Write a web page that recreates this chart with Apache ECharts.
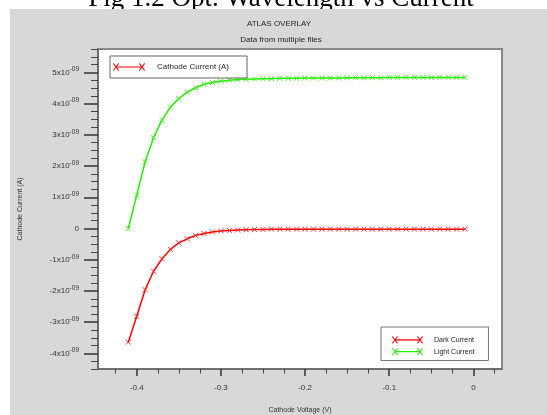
<!DOCTYPE html>
<html>
<head>
<meta charset="utf-8">
<script src="https://cdn.jsdelivr.net/npm/echarts@6/dist/echarts.min.js"></script>
<style>
html,body{margin:0;padding:0;background:#fff;}
#c{width:547px;height:415px;}
</style>
</head>
<body>
<div id="c"></div>
<script>
// Cathode voltage (V)
const voltages = [-0.41,-0.40,-0.39,-0.38,-0.37,-0.36,-0.35,-0.34,-0.33,-0.32,-0.31,-0.30,-0.29,-0.28,-0.27,-0.26,-0.25,-0.24,-0.23,-0.22,-0.21,-0.20,-0.19,-0.18,-0.17,-0.16,-0.15,-0.14,-0.13,-0.12,-0.11,-0.10,-0.09,-0.08,-0.07,-0.06,-0.05,-0.04,-0.03,-0.02,-0.01];
// Currents in units of 1e-9 A
const darkCurrent = [-3.64,-2.81,-1.96,-1.37,-0.97,-0.67,-0.46,-0.33,-0.22,-0.16,-0.11,-0.08,-0.06,-0.05,-0.04,-0.03,-0.03,-0.02,-0.02,-0.02,-0.02,-0.02,-0.02,-0.02,-0.02,-0.02,-0.02,-0.02,-0.02,-0.02,-0.02,-0.02,-0.02,-0.02,-0.02,-0.02,-0.02,-0.02,-0.02,-0.02,-0.02];
const lightCurrent = [0,1.07,2.14,2.91,3.47,3.89,4.16,4.37,4.51,4.62,4.68,4.72,4.75,4.77,4.78,4.79,4.80,4.80,4.81,4.81,4.81,4.82,4.82,4.82,4.82,4.82,4.83,4.83,4.83,4.83,4.83,4.84,4.84,4.84,4.84,4.84,4.84,4.84,4.84,4.84,4.84];
const cathodeCurrent = [];
// Tick values
const xMajorTicks = [-0.4,-0.3,-0.2,-0.1,0];
const xMinorTicks = [-0.425,-0.375,-0.35,-0.325,-0.275,-0.25,-0.225,-0.175,-0.15,-0.125,-0.075,-0.05,-0.025,0.025];
const yMajorTicks = [-4,-3,-2,-1,0,1,2,3,4,5];
const yMinorTicks = [-4.5,-4.25,-3.75,-3.5,-3.25,-2.75,-2.5,-2.25,-1.75,-1.5,-1.25,-0.75,-0.5,-0.25,0.25,0.5,0.75,1.25,1.5,1.75,2.25,2.5,2.75,3.25,3.5,3.75,4.25,4.5,4.75,5.25,5.5,5.75];

const FONT = 'Liberation Sans';
const legendIcon = 'path://M3,3.4L29,3.4L29,4.6L3,4.6Z' +
  'M0,0.7L0.7,0L6,7.3L5.3,8ZM0,7.3L5.3,0L6,0.7L0.7,8Z' +
  'M26,0.7L26.7,0L32,7.3L31.3,8ZM26,7.3L31.3,0L32,0.7L26.7,8Z';
const xSym = 'path://M0,0L10,10M10,0L0,10';

function pair(xs, ys){ return xs.map((x,i)=>[x, ys[i]]); }

const chart = echarts.init(document.getElementById('c'), null, {renderer:'canvas'});
const xMin = -0.446, xMax = 0.034, yMin = -4.5, yMax = 5.75;

chart.setOption({
  backgroundColor: '#ffffff',
  animation: false,
  graphic: [
    { type:'text', x:281, y:-1, z:0,
      style:{ text:'Fig 1.2 Opt. Wavelength vs Current', font:'27px "Liberation Serif"', fill:'#000', align:'center', verticalAlign:'middle' } },
    { type:'rect', shape:{x:10, y:9, width:537, height:406}, z:1, style:{fill:'#d8d8d8'} },
    { type:'text', x:279, y:24, z:2,
      style:{ text:'ATLAS OVERLAY', font:'8px "' + FONT + '"', fill:'#222', align:'center', verticalAlign:'middle' } },
    { type:'text', x:281, y:40, z:2,
      style:{ text:'Data from multiple files', font:'8px "' + FONT + '"', fill:'#222', align:'center', verticalAlign:'middle' } }
  ],
  grid: { left:98, top:49, right:45, bottom:46, show:true, backgroundColor:'#ffffff', borderColor:'#888', borderWidth:2, z:3,
          outerBoundsMode:'none', containLabel:false },
  legend: [
    { data:['Cathode Current (A)'], left:110, top:56, orient:'vertical', z:8,
      icon: legendIcon, itemWidth:32, itemHeight:8, itemGap:4,
      padding:[7,18,7,3], borderColor:'#666', borderWidth:1, backgroundColor:'#fff',
      itemStyle:{borderWidth:0},
      textStyle:{fontFamily:FONT, fontSize:8, color:'#222', padding:[0,0,0,7]} },
    { data:['Dark Current','Light Current'], left:381, top:327, orient:'vertical', z:8,
      icon: legendIcon, itemWidth:31, itemHeight:8, itemGap:4,
      padding:[9,14,5,11], borderColor:'#777', borderWidth:1, backgroundColor:'#fff',
      itemStyle:{borderWidth:0},
      textStyle:{fontFamily:FONT, fontSize:7, color:'#222', padding:[0,0,0,6]} }
  ],
  xAxis: [
    { type:'value', min:xMin, max:xMax, position:'bottom', z:5,
      name:'Cathode Voltage (V)', nameLocation:'middle', nameGap:38,
      nameTextStyle:{fontFamily:FONT, fontSize:7, color:'#333'},
      axisLine:{show:true, onZero:false, lineStyle:{color:'#666', width:1.5}},
      axisTick:{show:true, length:7, customValues:xMajorTicks, lineStyle:{color:'#333', width:1.5}},
      axisLabel:{show:true, customValues:xMajorTicks, margin:15, fontFamily:FONT, fontSize:8, color:'#333',
        formatter:v=>{ const r=Math.round(v*10)/10; return r===0?'0':String(r); }},
      splitLine:{show:false} },
    { type:'value', min:xMin, max:xMax, position:'bottom', z:5,
      axisLine:{show:false, onZero:false},
      axisTick:{show:true, length:4.5, customValues:xMinorTicks, lineStyle:{color:'#444', width:1}},
      axisLabel:{show:false}, splitLine:{show:false} }
  ],
  yAxis: [
    { type:'value', min:yMin, max:yMax, position:'left', z:5,
      name:'Cathode Current (A)', nameLocation:'middle', nameGap:74,
      nameTextStyle:{fontFamily:FONT, fontSize:7, color:'#333'},
      axisLine:{show:true, onZero:false, lineStyle:{color:'#666', width:1.5}},
      axisTick:{show:true, length:14, customValues:yMajorTicks, lineStyle:{color:'#333', width:1.5}},
      axisLabel:{show:true, customValues:yMajorTicks, margin:19,
        formatter:v=>{ const r=Math.round(v); if(r===0) return '{b|0}'; return '{b|' + r + 'x10}{s|-09}'; },
        rich:{ b:{fontFamily:FONT, fontSize:8, color:'#333'}, s:{fontFamily:FONT, fontSize:6.5, color:'#333', padding:[0,0,6,0]} }},
      splitLine:{show:false} },
    { type:'value', min:yMin, max:yMax, position:'left', z:5,
      axisLine:{show:false, onZero:false},
      axisTick:{show:true, length:7, customValues:yMinorTicks, lineStyle:{color:'#444', width:1}},
      axisLabel:{show:false}, splitLine:{show:false} }
  ],
  series: [
    { name:'Cathode Current (A)', type:'line', data:cathodeCurrent, color:'#ff0000', z:6,
      symbol:xSym, symbolSize:5, lineStyle:{width:1.5} },
    { name:'Dark Current', type:'line', data:pair(voltages, darkCurrent), color:'#ff0000', z:6,
      symbol:xSym, symbolSize:5, showAllSymbol:true,
      lineStyle:{width:1.5, color:'#ff0000'},
      itemStyle:{color:'#ff0000', borderColor:'#ff3030', borderWidth:1} },
    { name:'Light Current', type:'line', data:pair(voltages, lightCurrent), color:'#22ee00', z:6,
      symbol:xSym, symbolSize:5, showAllSymbol:true,
      lineStyle:{width:1.5, color:'#22ee00'},
      itemStyle:{color:'#22ee00', borderColor:'#44f020', borderWidth:1} }
  ]
});
</script>
</body>
</html>
